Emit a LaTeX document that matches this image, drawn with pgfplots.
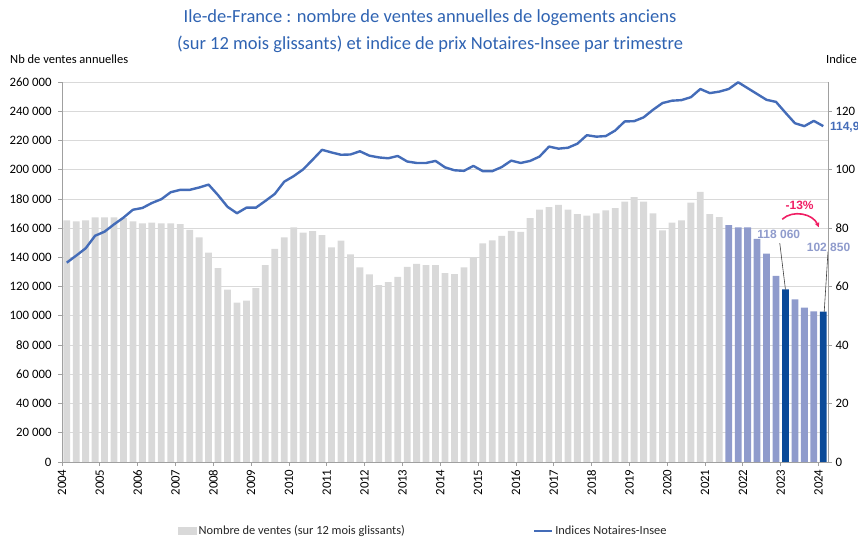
\documentclass[border=0pt]{standalone}
\usepackage{pgfplots}
\pgfplotsset{compat=1.18}
\usepackage{pgfplotstable}
\usepackage{fontspec}
\setmainfont{Carlito}
\newfontfamily\lsans{Liberation Sans}
\usetikzlibrary{arrows.meta}

\definecolor{barGray}{RGB}{217,217,217}
\definecolor{barLav}{RGB}{143,155,204}
\definecolor{barDark}{RGB}{10,74,153}
\definecolor{lineBlue}{RGB}{68,108,184}
\definecolor{titleBlue}{RGB}{47,99,178}
\definecolor{pinkA}{RGB}{240,30,100}
\definecolor{axisGray}{RGB}{160,160,160}
\definecolor{gridGray}{RGB}{217,217,217}

\pgfplotstableread{
x y
0 165300
1 164600
2 165300
3 167350
4 167350
5 167350
6 166900
7 164600
8 163250
9 163700
10 163250
11 163250
12 162800
13 158900
14 153700
15 143200
16 132700
17 117900
18 109000
19 110350
20 119000
21 134750
22 145900
23 153700
24 160500
25 156900
26 158000
27 155300
28 146800
29 151400
30 142000
31 133100
32 128300
33 121000
34 123050
35 126700
36 133550
37 135600
38 134700
39 134700
40 129200
41 128500
42 133100
43 139700
44 149500
45 151600
46 154800
47 158200
48 157500
49 166900
50 172600
51 174400
52 176000
53 172600
54 169600
55 168500
56 170100
57 172200
58 173700
59 178100
60 181300
61 178100
62 170100
63 158400
64 163700
65 165300
66 177400
67 184900
68 169600
69 167600
}\grayBars

\pgfplotstableread{
x y
70 162100
71 160450
72 160450
73 152700
74 142600
75 127300
77 111300
78 105600
79 103100
}\lavBars

\pgfplotstableread{
x y
76 118060
80 102850
}\darkBars

\pgfplotstableread{
x y
0 68.2
1 70.6
2 73.1
3 77.4
4 78.8
5 81.3
6 83.6
7 86.3
8 86.9
9 88.6
10 89.9
11 92.3
12 93.1
13 93.1
14 93.9
15 94.9
16 91.3
17 87.3
18 85.1
19 87.0
20 87.0
21 89.3
22 91.7
23 95.9
24 97.8
25 100.1
26 103.4
27 106.8
28 105.9
29 105.1
30 105.2
31 106.3
32 104.8
33 104.2
34 103.9
35 104.7
36 102.8
37 102.3
38 102.3
39 103.0
40 100.8
41 99.8
42 99.6
43 101.3
44 99.5
45 99.5
46 100.9
47 103.1
48 102.3
49 103.0
50 104.5
51 107.9
52 107.2
53 107.5
54 108.9
55 111.8
56 111.3
57 111.5
58 113.4
59 116.5
60 116.6
61 117.9
62 120.5
63 122.8
64 123.6
65 123.8
66 124.8
67 127.6
68 126.2
69 126.7
70 127.6
71 129.9
72 127.9
73 125.9
74 123.9
75 123.2
76 119.5
77 115.9
78 114.9
79 116.7
80 114.9
}\idx

\begin{document}
\begin{tikzpicture}
\useasboundingbox (0,0) rectangle (858bp,537bp);
\begin{axis}[
  at={(62bp,75bp)}, anchor=south west, scale only axis,
  width=766bp, height=380bp,
  xmin=-0.5, xmax=80.5, ymin=0, ymax=260000,
  scaled y ticks=false,
  axis x line*=bottom, axis y line*=left,
  axis line style={draw=axisGray, line width=0.8bp},
  ytick={0,20000,...,260000},
  yticklabels={0,20 000,40 000,60 000,80 000,100 000,120 000,140 000,160 000,180 000,200 000,220 000,240 000,260 000},
  y tick label style={xshift=-3bp},
  ymajorgrids, grid style={draw=gridGray, line width=0.8bp},
  xtick={-0.5,3.5,...,79.5},
  xticklabels={2004,2005,2006,2007,2008,2009,2010,2011,2012,2013,2014,2015,2016,2017,2018,2019,2020,2021,2022,2023,2024},
  x tick label style={rotate=90, anchor=east},
  tick align=outside, major tick length=4bp,
  tick style={draw=axisGray, line width=0.8bp},
  ticklabel style={font=\fontsize{12.8bp}{15bp}\selectfont, text=black},
  clip=false,
]
\addplot[ybar, bar width=0.72, bar shift=0pt, fill=barGray, draw=none] table {\grayBars};
\addplot[ybar, bar width=0.72, bar shift=0pt, fill=barLav, draw=none] table {\lavBars};
\addplot[ybar, bar width=0.72, bar shift=0pt, fill=barDark, draw=none] table {\darkBars};
\draw[black!75, line width=0.6bp] (axis cs:75.4,149800) -- (axis cs:76,118000);
\draw[black!75, line width=0.6bp] (axis cs:80.5,143900) -- (axis cs:80.1,102850);
\node[font=\lsans\bfseries\fontsize{12bp}{14bp}\selectfont, text=barLav, inner sep=0pt] at (axis cs:75.3,156000) {118 060};
\node[font=\lsans\bfseries\fontsize{12bp}{14bp}\selectfont, text=barLav, inner sep=0pt] at (axis cs:80.56,146800) {102 850};
\node[font=\lsans\bfseries\fontsize{12bp}{14bp}\selectfont, text=pinkA, inner sep=0pt] at (axis cs:77.5,175800) {-13\%};
\draw[pinkA, line width=1.6bp, -{Stealth[length=5bp,width=5bp]}] (axis cs:75.66,166100) to[bend left=55] (axis cs:79.53,160600);
\end{axis}
\begin{axis}[
  at={(62bp,75bp)}, anchor=south west, scale only axis,
  width=766bp, height=380bp,
  xmin=-0.5, xmax=80.5, ymin=0, ymax=130,
  axis y line*=right, axis x line=none,
  axis line style={draw=axisGray, line width=0.8bp},
  ytick={0,20,...,120},
  /pgf/number format/assume math mode=true,
  tick align=outside, major tick length=4bp,
  tick style={draw=axisGray, line width=0.8bp},
  ticklabel style={font=\fontsize{12.8bp}{15bp}\selectfont, text=black},
  clip=false,
  legend columns=2,
  legend style={draw=none, fill=none, at={(0.1514,-0.1816)}, anchor=west, inner sep=0pt,
    font=\fontsize{12.4bp}{14bp}\selectfont, text=black!85,
    /tikz/every even column/.append style={column sep=126bp}},
]
\addlegendimage{legend image code/.code={\fill[barGray] (0bp,-3.5bp) rectangle (18bp,3.5bp);}}
\addlegendentry{Nombre de ventes (sur 12 mois glissants)}
\addplot[lineBlue, line width=2.4bp, mark=none, line join=round,
  legend image code/.code={\draw[lineBlue, line width=2.4bp] (0bp,0bp) -- (18bp,0bp);}] table {\idx};
\addlegendentry{Indices Notaires-Insee}
\node[font=\lsans\bfseries\fontsize{12bp}{14bp}\selectfont, text=lineBlue, anchor=west, inner sep=0pt] at (axis cs:80.7,114.6) {114,9};
\end{axis}
\node[font=\fontsize{18.5bp}{22bp}\selectfont, text=titleBlue] at (430bp,519bp) {Ile-de-France : nombre de ventes annuelles de logements anciens};
\node[font=\fontsize{18.5bp}{22bp}\selectfont, text=titleBlue] at (430bp,493bp) {(sur 12 mois glissants) et indice de prix Notaires-Insee par trimestre};
\node[font=\fontsize{12.5bp}{14bp}\selectfont, anchor=west, inner sep=0pt] at (10bp,478bp) {Nb de ventes annuelles};
\node[font=\fontsize{12.5bp}{14bp}\selectfont, anchor=east, inner sep=0pt] at (857bp,478bp) {Indice};
\end{tikzpicture}
\end{document}
